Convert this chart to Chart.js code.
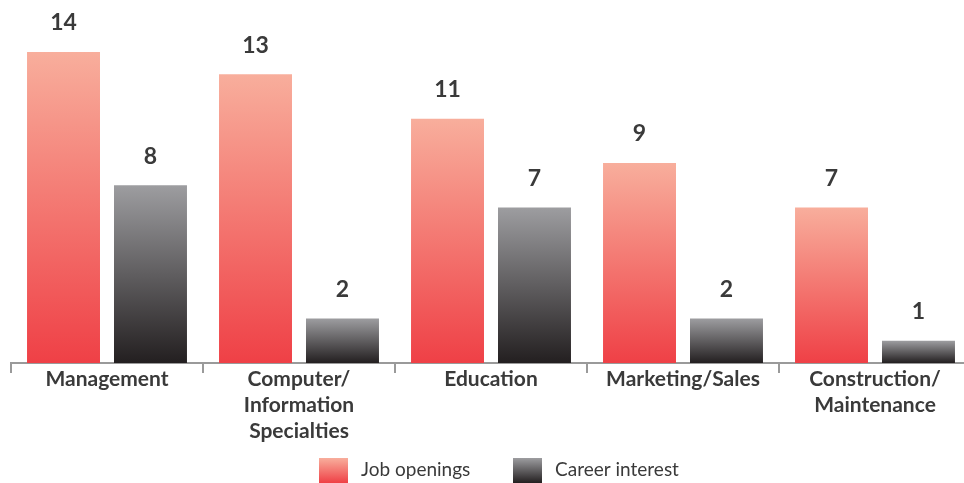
<!DOCTYPE html>
<html lang="en">
<head>
    <meta charset="UTF-8">
    <script src="https://cdn.jsdelivr.net/npm/chart.js"></script>
    <title>Job openings vs career interest</title>
    <style>
        html, body { margin: 0; padding: 0; background: #ffffff; overflow: hidden; }
        #box { width: 972px; height: 483px; }
    </style>
</head>
<body>

    <div id="box">
        <canvas id="grafico" width="972" height="483"></canvas>
    </div>

<script>

    // dados
    var categorias = [
        'Management',
        ['Computer/', 'Information', 'Specialties'],
        'Education',
        'Marketing/Sales',
        ['Construction/', 'Maintenance']
    ];
    var vagas = [14, 13, 11, 9, 7];
    var interesse = [8, 2, 7, 2, 1];
    var nomesSeries = ['Job openings', 'Career interest'];

    var coresVagas = ['#F8AE9C', '#EF4046'];
    var coresInteresse = ['#9D9DA0', '#231F20'];
    var corTexto = '#3a3a3a';

    // gradiente do topo da barra ate a base
    function gradiente(cores) {
        return function(ctx) {
            var chart = ctx.chart;
            if (ctx.type !== 'data' || !chart.chartArea) return cores[1];
            var y = chart.scales.y;
            var topo = y.getPixelForValue(ctx.raw);
            var base = y.getPixelForValue(0);
            var g = chart.ctx.createLinearGradient(0, topo, 0, base);
            g.addColorStop(0, cores[0]);
            g.addColorStop(1, cores[1]);
            return g;
        };
    }

    // numeros em cima das barras
    var rotulos = {
        id: 'rotulos',
        afterDatasetsDraw(chart) {
            var c = chart.ctx;
            c.save();
            c.fillStyle = corTexto;
            c.font = 'bold 23px Lato';
            c.textAlign = 'center';
            c.textBaseline = 'middle';
            chart.data.datasets.forEach(function(ds, i) {
                chart.getDatasetMeta(i).data.forEach(function(bar, j) {
                    c.fillText(ds.data[j], bar.x, bar.y - 29);
                });
            });
            c.restore();
        }
    };

    // legenda desenhada na mao
    var legenda = {
        id: 'legenda',
        afterDraw(chart) {
            var c = chart.ctx;
            var itens = [
                { x: 319, cores: coresVagas, texto: nomesSeries[0] },
                { x: 513, cores: coresInteresse, texto: nomesSeries[1] }
            ];
            c.save();
            itens.forEach(function(it) {
                var g = c.createLinearGradient(0, 458, 0, 483);
                g.addColorStop(0, it.cores[0]);
                g.addColorStop(1, it.cores[1]);
                c.fillStyle = g;
                c.fillRect(it.x, 458, 29, 25);
                c.fillStyle = corTexto;
                c.font = '19px Lato';
                c.textAlign = 'left';
                c.textBaseline = 'middle';
                c.fillText(it.texto, it.x + 42, 470);
            });
            c.restore();
        }
    };

    const ctx = document.getElementById('grafico').getContext('2d');
    const grafico = new Chart(ctx, {
        type: 'bar',
        data: {
            labels: categorias,
            datasets: [{
                label: nomesSeries[0],
                data: vagas,
                backgroundColor: gradiente(coresVagas),
                categoryPercentage: 0.906,
                barPercentage: 0.839
            }, {
                label: nomesSeries[1],
                data: interesse,
                backgroundColor: gradiente(coresInteresse),
                categoryPercentage: 0.906,
                barPercentage: 0.839
            }]
        },
        options: {
            responsive: false,
            animation: false,
            layout: {
                padding: { top: 52, left: 11, right: 1, bottom: 0 }
            },
            plugins: {
                legend: { display: false },
                tooltip: { enabled: false }
            },
            scales: {
                y: {
                    display: false,
                    min: 0,
                    max: 14
                },
                x: {
                    afterFit: function(scale) { scale.height = 120; },
                    border: { display: true, color: '#9a9a9a', width: 2 },
                    grid: {
                        offset: true,
                        drawOnChartArea: false,
                        drawTicks: true,
                        tickLength: 10,
                        color: '#9a9a9a',
                        lineWidth: 2
                    },
                    ticks: {
                        padding: -7,
                        color: corTexto,
                        maxRotation: 0,
                        autoSkip: false,
                        font: { family: 'Lato', weight: 'bold', size: 21, lineHeight: 1.24 }
                    }
                }
            }
        },
        plugins: [rotulos, legenda]
    });

</script>
</body>
</html>
